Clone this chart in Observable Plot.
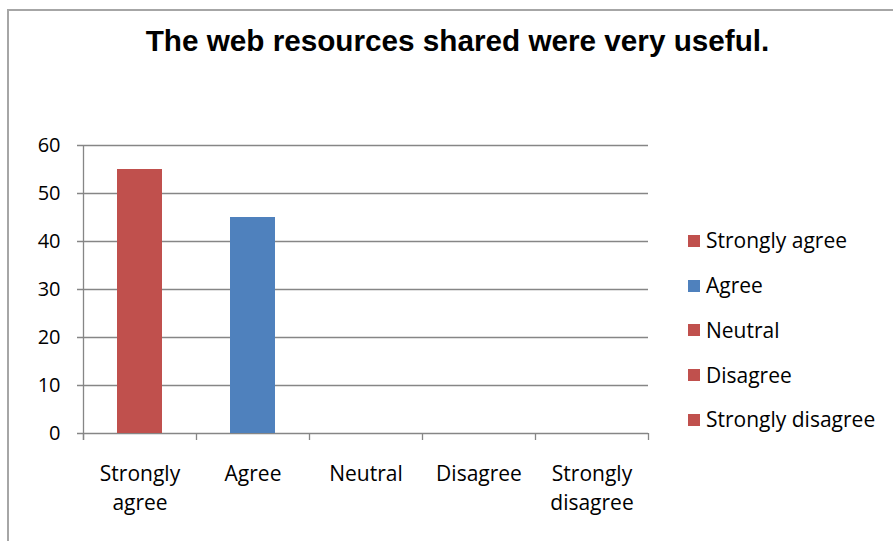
<!DOCTYPE html>
<html>
<head>
<meta charset="utf-8">
<script src="https://cdn.jsdelivr.net/npm/d3@7"></script>
<script src="https://cdn.jsdelivr.net/npm/@observablehq/plot@0.6"></script>
<style>
  html, body { margin: 0; padding: 0; background: #fff; }
  #wrap { position: relative; width: 893px; height: 541px; overflow: hidden; background: #fff; }
  #border { position: absolute; left: 7px; top: 9px; width: 1000px; height: 1000px; border: 2px solid #a6a6a6; box-sizing: border-box; }
  #title { position: absolute; left: 0; top: 26px; width: 915px; text-align: center; font-family: "Liberation Sans", Arial, sans-serif; font-weight: bold; font-size: 29.7px; line-height: 30px; color: #000; white-space: nowrap; }
  #chart { position: absolute; left: 0; top: 0; }
  .lg-row { position: absolute; left: 688px; font-family: "Open Sans", sans-serif; font-size: 21px; line-height: 28px; color: #000; white-space: nowrap; }
  .lg-sq { position: absolute; width: 12px; height: 12px; }
  .lg-tx { position: absolute; left: 18px; top: 0; }
</style>
</head>
<body>
<div id="wrap">
  <div id="border"></div>
  <div id="chart"></div>
  <div id="title"></div>
  <div id="legend"></div>
</div>
<script>
const title = "The web resources shared were very useful.";
const categories = ["Strongly agree", "Agree", "Neutral", "Disagree", "Strongly disagree"];
const values = [55, 45, 0, 0, 0];
const axisLabels = ["Strongly\nagree", "Agree", "Neutral", "Disagree", "Strongly\ndisagree"];
const yTicks = [0, 10, 20, 30, 40, 50, 60];

const RED = "#C0504D", BLUE = "#4F81BD", GRID = "#868686";
const colorRange = [RED, BLUE, RED, RED, RED];

const data = categories.map((c, i) => ({category: c, value: values[i], label: axisLabels[i]}));

document.getElementById("title").textContent = title;

const half = 56.5; // half of a category step, for boundary ticks

const chart = Plot.plot({
  width: 893,
  height: 541,
  marginLeft: 83,
  marginRight: 245,
  marginTop: 145,
  marginBottom: 108,
  style: {background: "transparent", fontFamily: "Open Sans, sans-serif", color: "#000"},
  x: {type: "band", domain: categories, paddingInner: 0.6, paddingOuter: 0.3, axis: null},
  y: {domain: [0, 60], axis: null},
  color: {domain: categories, range: colorRange},
  marks: [
    Plot.ruleY(yTicks, {y: d => d, stroke: GRID, strokeWidth: 1.3, insetLeft: -6}),
    Plot.ruleX(categories.slice(0, 1), {x: d => d, dx: -half, stroke: GRID, strokeWidth: 1.3, insetBottom: -7}),
    Plot.ruleX(categories, {x: d => d, y1: 0, y2: 0, dx: -half, stroke: GRID, strokeWidth: 1.3, insetBottom: -7}),
    Plot.ruleX(categories.slice(-1), {x: d => d, y1: 0, y2: 0, dx: half, stroke: GRID, strokeWidth: 1.3, insetBottom: -7}),
    Plot.barY(data, {x: "category", y: "value", fill: "category"}),
    Plot.text(yTicks, {y: d => d, text: d => String(d), frameAnchor: "left", dx: -23, textAnchor: "end", fontSize: 20, fill: "#000"}),
    Plot.text(data, {x: "category", y: 0, text: "label", lineAnchor: "top", dy: 27, lineHeight: 1.37, fontSize: 21, fill: "#000"})
  ]
});
document.getElementById("chart").appendChild(chart);

// legend
const legend = document.getElementById("legend");
const colorOf = Plot.scale({color: {domain: categories, range: colorRange}});
categories.forEach((c, i) => {
  const baseline = 248.3 + i * 44.8;
  const row = document.createElement("div");
  row.className = "lg-row";
  row.style.top = (baseline - 22.15) + "px";
  const sq = document.createElement("div");
  sq.className = "lg-sq";
  sq.style.background = colorOf.apply(c);
  sq.style.left = "0px";
  sq.style.top = (22.15 - 7.5 - 6) + "px";
  const tx = document.createElement("div");
  tx.className = "lg-tx";
  tx.textContent = c;
  row.appendChild(sq);
  row.appendChild(tx);
  legend.appendChild(row);
});
</script>
</body>
</html>
